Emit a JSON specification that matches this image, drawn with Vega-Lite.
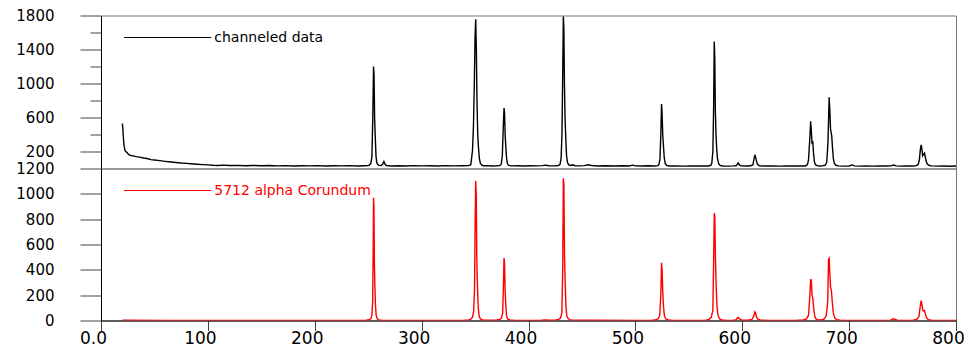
{
  "$schema": "https://vega.github.io/schema/vega-lite/v6.json",
  "padding": {"left": 15, "top": 7.5, "right": 5, "bottom": 1},
  "spacing": 0,
  "bounds": "flush",
  "background": "#ffffff",
  "config": {
    "view": {"stroke": "#777777", "strokeWidth": 1},
    "font": "DejaVu Sans",
    "axis": {"grid": false, "domainColor": "#000000", "tickColor": "#444444", "labelColor": "#000000", "labelFont": "DejaVu Sans"},
    "legend": {"padding": 0}
  },
  "resolve": {"scale": {"color": "independent"}, "legend": {"color": "independent"}},
  "datasets": {
    "measured": [
      {"x": 20, "y": 530}, {"x": 20.4, "y": 470}, {"x": 20.8, "y": 390}, {"x": 21.2, "y": 320}, {"x": 21.7, "y": 260}, {"x": 22.3, "y": 220}, {"x": 23, "y": 200}, {"x": 24.3, "y": 190}, {"x": 25.5, "y": 168}, {"x": 27, "y": 158}, {"x": 28, "y": 153}, {"x": 30, "y": 148}, {"x": 33, "y": 140}, {"x": 36, "y": 134}, {"x": 40, "y": 124}, {"x": 43, "y": 118}, {"x": 46.7, "y": 104}, {"x": 50, "y": 100}, {"x": 55, "y": 92}, {"x": 60, "y": 84}, {"x": 65.5, "y": 76}, {"x": 70, "y": 70}, {"x": 75, "y": 64}, {"x": 80, "y": 60}, {"x": 84, "y": 56}, {"x": 90, "y": 50}, {"x": 95, "y": 46}, {"x": 100, "y": 43}, {"x": 105, "y": 38}, {"x": 109, "y": 36}, {"x": 115, "y": 40}, {"x": 120, "y": 35}, {"x": 128, "y": 37}, {"x": 135, "y": 33}, {"x": 142, "y": 36}, {"x": 150, "y": 32}, {"x": 158, "y": 35}, {"x": 165, "y": 31}, {"x": 172, "y": 34}, {"x": 180, "y": 30}, {"x": 188, "y": 33}, {"x": 195, "y": 31}, {"x": 202, "y": 34}, {"x": 210, "y": 30}, {"x": 218, "y": 33}, {"x": 225, "y": 31}, {"x": 232, "y": 34}, {"x": 240, "y": 30}, {"x": 246, "y": 33}, {"x": 250, "y": 34},
      {"x": 251, "y": 40}, {"x": 252.5, "y": 60}, {"x": 253.5, "y": 140}, {"x": 254.3, "y": 600}, {"x": 255, "y": 1200}, {"x": 255.5, "y": 1100}, {"x": 256, "y": 600}, {"x": 256.6, "y": 380}, {"x": 257.3, "y": 150}, {"x": 258, "y": 70}, {"x": 259, "y": 45}, {"x": 260.5, "y": 36}, {"x": 262, "y": 34}, {"x": 263.5, "y": 50}, {"x": 264.7, "y": 82}, {"x": 265.8, "y": 50}, {"x": 267, "y": 35}, {"x": 272, "y": 30}, {"x": 278, "y": 33}, {"x": 285, "y": 30}, {"x": 292, "y": 34}, {"x": 300, "y": 31}, {"x": 308, "y": 33}, {"x": 315, "y": 30}, {"x": 322, "y": 34}, {"x": 330, "y": 31}, {"x": 338, "y": 33}, {"x": 344, "y": 34},
      {"x": 346, "y": 45}, {"x": 347.6, "y": 211}, {"x": 348.5, "y": 500}, {"x": 349.3, "y": 1000}, {"x": 350, "y": 1550}, {"x": 350.6, "y": 1757}, {"x": 351.2, "y": 1400}, {"x": 351.8, "y": 800}, {"x": 352.5, "y": 400}, {"x": 353.2, "y": 250}, {"x": 354, "y": 120}, {"x": 355, "y": 60}, {"x": 356.5, "y": 38}, {"x": 358, "y": 32}, {"x": 362, "y": 34}, {"x": 366, "y": 30}, {"x": 370, "y": 32}, {"x": 373, "y": 35},
      {"x": 374.5, "y": 50}, {"x": 375.5, "y": 150}, {"x": 376.3, "y": 450}, {"x": 377.1, "y": 712}, {"x": 377.6, "y": 650}, {"x": 378.2, "y": 380}, {"x": 378.8, "y": 250}, {"x": 379.5, "y": 120}, {"x": 380.3, "y": 55}, {"x": 381.5, "y": 36}, {"x": 384, "y": 31}, {"x": 390, "y": 33}, {"x": 396, "y": 30}, {"x": 402, "y": 33}, {"x": 408, "y": 31}, {"x": 413, "y": 34}, {"x": 416, "y": 40}, {"x": 419, "y": 33}, {"x": 424, "y": 31}, {"x": 428, "y": 35},
      {"x": 429.5, "y": 50}, {"x": 430.5, "y": 120}, {"x": 431.3, "y": 400}, {"x": 432, "y": 1100}, {"x": 432.6, "y": 1788}, {"x": 433.1, "y": 1650}, {"x": 433.6, "y": 1000}, {"x": 434.2, "y": 600}, {"x": 434.9, "y": 350}, {"x": 435.6, "y": 150}, {"x": 436.5, "y": 70}, {"x": 437.5, "y": 45}, {"x": 439, "y": 36}, {"x": 441.5, "y": 44}, {"x": 443.5, "y": 33}, {"x": 448, "y": 31}, {"x": 452, "y": 34}, {"x": 456, "y": 44}, {"x": 459, "y": 35}, {"x": 465, "y": 30}, {"x": 472, "y": 33}, {"x": 480, "y": 30}, {"x": 488, "y": 32}, {"x": 494, "y": 29}, {"x": 497.6, "y": 40}, {"x": 500, "y": 31}, {"x": 506, "y": 29}, {"x": 512, "y": 32}, {"x": 518, "y": 30}, {"x": 521, "y": 34},
      {"x": 522, "y": 45}, {"x": 523, "y": 110}, {"x": 523.8, "y": 400}, {"x": 524.5, "y": 759}, {"x": 525, "y": 650}, {"x": 525.6, "y": 400}, {"x": 526.2, "y": 280}, {"x": 527, "y": 130}, {"x": 528, "y": 55}, {"x": 529.5, "y": 35}, {"x": 532, "y": 29}, {"x": 538, "y": 31}, {"x": 545, "y": 28}, {"x": 552, "y": 31}, {"x": 558, "y": 29}, {"x": 564, "y": 31}, {"x": 568, "y": 30}, {"x": 570.5, "y": 38},
      {"x": 571.5, "y": 60}, {"x": 572.5, "y": 200}, {"x": 573.2, "y": 700}, {"x": 573.8, "y": 1494}, {"x": 574.3, "y": 1300}, {"x": 574.8, "y": 700}, {"x": 575.4, "y": 420}, {"x": 576, "y": 250}, {"x": 576.8, "y": 120}, {"x": 578, "y": 55}, {"x": 579.5, "y": 35}, {"x": 582, "y": 30}, {"x": 587, "y": 28}, {"x": 592, "y": 31}, {"x": 594.5, "y": 35}, {"x": 596.2, "y": 67}, {"x": 597.5, "y": 40}, {"x": 599, "y": 31}, {"x": 604, "y": 29}, {"x": 608, "y": 32}, {"x": 610, "y": 45}, {"x": 611, "y": 110}, {"x": 611.8, "y": 161}, {"x": 612.5, "y": 130}, {"x": 613.3, "y": 90}, {"x": 614.2, "y": 50}, {"x": 616, "y": 33}, {"x": 622, "y": 29}, {"x": 628, "y": 31}, {"x": 635, "y": 28}, {"x": 642, "y": 31}, {"x": 648, "y": 29}, {"x": 654, "y": 31}, {"x": 659, "y": 30}, {"x": 661, "y": 45},
      {"x": 662, "y": 100}, {"x": 663.2, "y": 350}, {"x": 664, "y": 555}, {"x": 664.6, "y": 450}, {"x": 665.3, "y": 300}, {"x": 666, "y": 309}, {"x": 666.7, "y": 180}, {"x": 667.5, "y": 80}, {"x": 668.5, "y": 45}, {"x": 670, "y": 33}, {"x": 672, "y": 30}, {"x": 675, "y": 31}, {"x": 677.5, "y": 38}, {"x": 679, "y": 70}, {"x": 680.2, "y": 300}, {"x": 681.3, "y": 837}, {"x": 681.9, "y": 700}, {"x": 682.6, "y": 466}, {"x": 683.2, "y": 420}, {"x": 683.7, "y": 387}, {"x": 684.4, "y": 250}, {"x": 685.2, "y": 120}, {"x": 686.2, "y": 60}, {"x": 687.5, "y": 38}, {"x": 690, "y": 31}, {"x": 695, "y": 28}, {"x": 700, "y": 30}, {"x": 702.8, "y": 42}, {"x": 705, "y": 31}, {"x": 710, "y": 28}, {"x": 716, "y": 30}, {"x": 722, "y": 28}, {"x": 728, "y": 31}, {"x": 734, "y": 29}, {"x": 739, "y": 31}, {"x": 741.8, "y": 40}, {"x": 744, "y": 31}, {"x": 748, "y": 28}, {"x": 753, "y": 30}, {"x": 758, "y": 29}, {"x": 762, "y": 31}, {"x": 764.5, "y": 45},
      {"x": 765.7, "y": 100}, {"x": 766.7, "y": 230}, {"x": 767.4, "y": 278}, {"x": 768, "y": 240}, {"x": 768.8, "y": 150}, {"x": 769.6, "y": 165}, {"x": 770.5, "y": 180}, {"x": 771.2, "y": 140}, {"x": 772, "y": 90}, {"x": 773, "y": 55}, {"x": 774.5, "y": 38}, {"x": 777, "y": 31}, {"x": 782, "y": 28}, {"x": 788, "y": 30}, {"x": 794, "y": 27}, {"x": 800, "y": 29}
    ],
    "reference": [
      {"x": 20, "y": 2}, {"x": 60, "y": 1}, {"x": 100, "y": 1}, {"x": 150, "y": 1}, {"x": 200, "y": 1}, {"x": 240, "y": 1}, {"x": 248, "y": 2}, {"x": 251, "y": 6}, {"x": 252.5, "y": 15}, {"x": 253.5, "y": 40}, {"x": 254.2, "y": 150}, {"x": 254.6, "y": 500}, {"x": 255, "y": 970}, {"x": 255.4, "y": 900}, {"x": 255.8, "y": 450}, {"x": 256.3, "y": 260}, {"x": 256.8, "y": 120}, {"x": 257.5, "y": 40}, {"x": 258.5, "y": 14}, {"x": 260, "y": 5}, {"x": 263, "y": 2}, {"x": 280, "y": 1}, {"x": 320, "y": 1}, {"x": 340, "y": 2},
      {"x": 344, "y": 4}, {"x": 346, "y": 10}, {"x": 347.5, "y": 25}, {"x": 348.7, "y": 70}, {"x": 349.5, "y": 250}, {"x": 350.1, "y": 800}, {"x": 350.6, "y": 1101}, {"x": 351.1, "y": 1000}, {"x": 351.6, "y": 500}, {"x": 352.2, "y": 280}, {"x": 352.9, "y": 110}, {"x": 353.8, "y": 35}, {"x": 355, "y": 12}, {"x": 357, "y": 5}, {"x": 360, "y": 3}, {"x": 366, "y": 3}, {"x": 370, "y": 4},
      {"x": 373, "y": 8}, {"x": 374.8, "y": 20}, {"x": 375.8, "y": 60}, {"x": 376.5, "y": 250}, {"x": 377.1, "y": 493}, {"x": 377.6, "y": 450}, {"x": 378.1, "y": 250}, {"x": 378.7, "y": 130}, {"x": 379.4, "y": 40}, {"x": 380.5, "y": 12}, {"x": 382.5, "y": 4}, {"x": 386, "y": 2}, {"x": 400, "y": 1}, {"x": 412, "y": 2}, {"x": 416, "y": 5}, {"x": 419, "y": 2}, {"x": 425, "y": 3},
      {"x": 428, "y": 8}, {"x": 430, "y": 20}, {"x": 431.2, "y": 60}, {"x": 432, "y": 400}, {"x": 432.6, "y": 1123}, {"x": 433.1, "y": 1080}, {"x": 433.7, "y": 500}, {"x": 434.3, "y": 300}, {"x": 435, "y": 120}, {"x": 435.8, "y": 40}, {"x": 437, "y": 15}, {"x": 439, "y": 5}, {"x": 443, "y": 2}, {"x": 460, "y": 2}, {"x": 500, "y": 1},
      {"x": 516, "y": 2}, {"x": 519.5, "y": 6}, {"x": 521.5, "y": 15}, {"x": 522.8, "y": 40}, {"x": 523.8, "y": 200}, {"x": 524.5, "y": 456}, {"x": 525, "y": 400}, {"x": 525.6, "y": 230}, {"x": 526.3, "y": 110}, {"x": 527.2, "y": 35}, {"x": 528.5, "y": 12}, {"x": 531, "y": 4}, {"x": 535, "y": 1}, {"x": 560, "y": 1},
      {"x": 566, "y": 3}, {"x": 569, "y": 9}, {"x": 571, "y": 25}, {"x": 572.5, "y": 80}, {"x": 573.3, "y": 500}, {"x": 573.8, "y": 847}, {"x": 574.3, "y": 820}, {"x": 574.9, "y": 500}, {"x": 575.5, "y": 300}, {"x": 576.3, "y": 120}, {"x": 577.3, "y": 40}, {"x": 578.8, "y": 12}, {"x": 581, "y": 4}, {"x": 586, "y": 1}, {"x": 592, "y": 2}, {"x": 594.5, "y": 6}, {"x": 595.5, "y": 22}, {"x": 596.5, "y": 24}, {"x": 597.5, "y": 12}, {"x": 599.5, "y": 3}, {"x": 605, "y": 2},
      {"x": 609, "y": 8}, {"x": 610.8, "y": 35}, {"x": 611.8, "y": 68}, {"x": 612.5, "y": 60}, {"x": 613.2, "y": 30}, {"x": 614.5, "y": 10}, {"x": 617, "y": 3}, {"x": 625, "y": 1}, {"x": 650, "y": 1},
      {"x": 657, "y": 4}, {"x": 660, "y": 12}, {"x": 662, "y": 40}, {"x": 663.3, "y": 200}, {"x": 664, "y": 322}, {"x": 664.6, "y": 320}, {"x": 665.3, "y": 200}, {"x": 666, "y": 176}, {"x": 666.8, "y": 100}, {"x": 667.8, "y": 35}, {"x": 669, "y": 12}, {"x": 671, "y": 5}, {"x": 674, "y": 4}, {"x": 676.5, "y": 10}, {"x": 678.5, "y": 35}, {"x": 680, "y": 150}, {"x": 680.7, "y": 480}, {"x": 681.3, "y": 490}, {"x": 681.9, "y": 380}, {"x": 682.6, "y": 262}, {"x": 683.4, "y": 240}, {"x": 684.2, "y": 150}, {"x": 685.2, "y": 60}, {"x": 686.5, "y": 20}, {"x": 688.5, "y": 6}, {"x": 692, "y": 2}, {"x": 700, "y": 1}, {"x": 730, "y": 1},
      {"x": 739, "y": 3}, {"x": 741, "y": 13}, {"x": 742.5, "y": 10}, {"x": 745, "y": 2}, {"x": 752, "y": 1}, {"x": 760, "y": 3}, {"x": 763.5, "y": 10}, {"x": 765.3, "y": 30}, {"x": 766.5, "y": 110}, {"x": 767.4, "y": 157}, {"x": 768.1, "y": 130}, {"x": 768.9, "y": 80}, {"x": 769.7, "y": 75}, {"x": 770.5, "y": 79}, {"x": 771.4, "y": 50}, {"x": 772.5, "y": 20}, {"x": 774, "y": 7}, {"x": 777, "y": 2}, {"x": 785, "y": 1}, {"x": 800, "y": 1}
    ]
  },
  "vconcat": [
    {
      "width": 855,
      "height": 153,
      "data": {"name": "measured"},
      "mark": {"type": "line", "strokeWidth": 1.4, "clip": true},
      "encoding": {
        "x": {"field": "x", "type": "quantitative", "scale": {"domain": [0, 800], "nice": false, "zero": false}, "axis": null},
        "y": {
          "field": "y", "type": "quantitative",
          "scale": {"domain": [0, 1800], "nice": false},
          "axis": {
            "title": null, "format": "d",
            "values": [200, 400, 600, 800, 1000, 1200, 1400, 1600, 1800],
            "labelExpr": "datum.value % 400 == 200 ? datum.label : ''",
            "tickSize": {"condition": {"test": "datum.value % 400 == 200", "value": 21}, "value": 11},
            "labelPadding": 26, "labelFontSize": 15, "domainColor": "#000000"
          }
        },
        "color": {
          "datum": "channeled data", "type": "nominal",
          "scale": {"range": ["#000000"]},
          "legend": {
            "title": null, "orient": "none", "legendX": 59.6, "legendY": 15,
            "symbolType": "M-10,0L10,0", "symbolSize": 76, "symbolStrokeWidth": 1,
            "labelFontSize": 14, "labelColor": "#000000", "labelOffset": 39.7, "labelFont": "DejaVu Sans"
          }
        }
      }
    },
    {
      "width": 855,
      "height": 152,
      "data": {"name": "reference"},
      "mark": {"type": "line", "strokeWidth": 1.4, "clip": true},
      "encoding": {
        "x": {
          "field": "x", "type": "quantitative", "scale": {"domain": [0, 800], "nice": false, "zero": false},
          "axis": {
            "title": null, "format": "d", "values": [0, 100, 200, 300, 400, 500, 600, 700, 800],
            "labelExpr": "datum.value == 0 ? '0.0' : datum.label",
            "tickSize": 10, "labelPadding": 0, "labelFontSize": 17, "labelFlush": false, "labelOffset": -8, "domainColor": "#000000"
          }
        },
        "y": {
          "field": "y", "type": "quantitative",
          "scale": {"domain": [0, 1200], "nice": false},
          "axis": {
            "title": null, "format": "d",
            "values": [0, 200, 400, 600, 800, 1000, 1200],
            "tickSize": 21, "labelPadding": 26, "labelFontSize": 15, "domainColor": "#000000"
          }
        },
        "color": {
          "datum": "5712 alpha Corundum", "type": "nominal",
          "scale": {"range": ["#ff0000"]},
          "legend": {
            "title": null, "orient": "none", "legendX": 59.6, "legendY": 15,
            "symbolType": "M-10,0L10,0", "symbolSize": 76, "symbolStrokeWidth": 1,
            "labelFontSize": 14, "labelColor": "#ff0000", "labelOffset": 39.7, "labelFont": "DejaVu Sans"
          }
        }
      }
    }
  ]
}
